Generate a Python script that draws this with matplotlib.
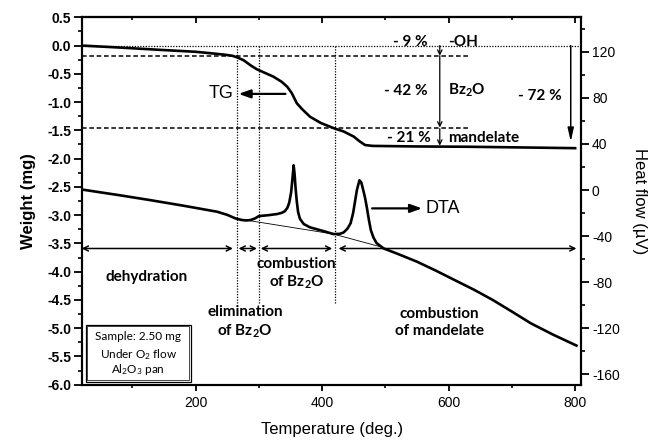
import numpy as np
import matplotlib
matplotlib.use("Agg")
import matplotlib.pyplot as plt
from matplotlib.ticker import MultipleLocator
from matplotlib.patches import Rectangle

plt.rcParams['font.family'] = ['Liberation Sans', 'DejaVu Sans']
plt.rcParams['axes.unicode_minus'] = False
plt.rcParams['mathtext.default'] = 'regular'

# TG curve: temperature (deg.) vs weight (mg)
tg_temp = [20, 80, 144, 200, 223, 245, 258, 266, 276, 287, 297, 305, 323, 336, 345,
           352, 356, 360, 368, 381, 398, 418, 434, 450, 460, 468, 480, 550, 629, 700, 800]
tg_weight = [0.0, -0.035, -0.076, -0.11, -0.135, -0.16, -0.18, -0.21, -0.26, -0.35, -0.42,
             -0.46, -0.55, -0.64, -0.73, -0.84, -0.93, -1.02, -1.12, -1.26, -1.37, -1.46,
             -1.52, -1.61, -1.70, -1.76, -1.775, -1.785, -1.79, -1.80, -1.815]

# DTA curve: temperature vs heat flow (uV)
dta_temp = [20, 80, 128, 180, 234, 250, 263, 272, 280, 287, 294, 300, 315, 329, 336,
            341, 345, 348, 351, 353, 355, 356.5, 358, 360, 362, 365, 371, 381, 402, 418,
            428, 434, 440, 445, 449, 452, 455, 459, 462, 465, 468, 471, 474, 477, 481,
            486, 497, 520, 550, 580, 609, 640, 670, 700, 730, 765, 802]
dta_flow = [0.5, -4.5, -8.7, -13.5, -18.8, -21.5, -24.6, -25.9, -26.4, -26.0, -24.6,
            -22.6, -21.8, -20.8, -19.8, -18.4, -15.5, -11, -2, 9, 21.5, 14, 2, -10, -19,
            -25, -29.5, -32.4, -35.6, -38.2, -38.0, -36.8, -33.5, -28.9, -20, -10, 0,
            8.5, 6.5, 0, -7, -16, -26, -34.7, -41, -46, -50.6, -55.5, -62.2, -70, -78,
            -86.5, -95.5, -105.5, -115.7, -125.5, -135]
base_temp = [263, 418, 492]
base_flow = [-24.6, -38.2, -49.2]

step_temps = [265, 300, 420]
step_levels = [-0.18, -1.45]

fig = plt.figure(figsize=(6.5, 4.46), dpi=100)
ax = fig.add_axes([0.1257, 0.1374, 0.7689, 0.8238])
ax2 = ax.twinx()

ax.plot(tg_temp, tg_weight, color='black', lw=1.9)
ax2.plot(dta_temp, dta_flow, color='black', lw=1.9)
ax2.plot(base_temp, base_flow, color='black', lw=0.6)

ax.set_xlim(20, 810)
ax.set_ylim(-6.0, 0.5)
ax2.set_ylim(-169, 150)

# reference lines
ax.plot([20, 810], [0, 0], color='black', lw=0.9, ls=(0, (1, 1.2)))
for lv in step_levels:
    ax.plot([20, 633], [lv, lv], color='black', lw=1.1, ls=(0, (3, 1.8)))
for t in step_temps:
    ax.plot([t, t], [0, -4.56], color='black', lw=0.9, ls=(0, (1, 1.2)))

# region arrows
arr = dict(arrowstyle='<->', lw=1.1, color='black', shrinkA=0, shrinkB=0, mutation_scale=9)
for a, b in [(20, 259), (268, 297), (303, 416), (426, 802)]:
    ax.annotate('', xy=(a, -3.59), xytext=(b, -3.59), arrowprops=arr)

lab = dict(family=['Lato', 'DejaVu Sans'], weight='bold', fontsize=11, ha='center',
           va='center', linespacing=1.25)
ax.text(123, -4.10, 'dehydration', **lab)
ax.text(360, -4.04, 'combustion\nof Bz$_2$O', **lab)
ax.text(278, -4.90, 'elimination\nof Bz$_2$O', **lab)
ax.text(585, -4.90, 'combustion\nof mandelate', **lab)

# mass loss annotations
pct = dict(family=['Lato', 'DejaVu Sans'], weight='bold', fontsize=11, va='center')
ax.text(539, 0.07, '- 9 %', ha='center', **pct)
ax.text(599, 0.07, '-OH', ha='left', **pct)
ax.text(533, -0.80, '- 42 %', ha='center', **pct)
ax.text(599, -0.80, 'Bz$_2$O', ha='left', **pct)
ax.text(537, -1.63, '- 21 %', ha='center', **pct)
ax.text(599, -1.63, 'mandelate', ha='left', **pct)
ax.text(745, -0.90, '- 72 %', ha='center', **pct)

small = dict(arrowstyle='->', lw=0.9, color='black', shrinkA=0, shrinkB=0, mutation_scale=8)
ax.annotate('', xy=(586, -0.18), xytext=(586, 0), arrowprops=small)
ax.annotate('', xy=(586, -1.45), xytext=(586, -0.18), arrowprops=small)
ax.annotate('', xy=(586, -1.77), xytext=(586, -1.47), arrowprops=small)
ax.annotate('', xy=(793, -1.70), xytext=(793, 0),
            arrowprops=dict(arrowstyle='-|>,head_width=0.18,head_length=0.8', lw=1.1,
                            color='black', shrinkA=0, shrinkB=0))

big = dict(arrowstyle='-|>,head_width=0.25,head_length=0.7', lw=1.6, color='black',
           shrinkA=0, shrinkB=0)
ax.annotate('', xy=(268, -0.855), xytext=(342, -0.855), arrowprops=big)
ax.text(240, -0.855, 'TG', fontsize=13, ha='center', va='center')
ax2.annotate('', xy=(558, -15.9), xytext=(479, -15.9), arrowprops=big)
ax2.text(563, -15.9, 'DTA', fontsize=13, ha='left', va='center')

# sample box
ax.add_patch(Rectangle((26, -5.95), 167, 1.01, fill=False, lw=0.9, color='black'))
ax.add_patch(Rectangle((29, -5.92), 161, 0.95, fill=False, lw=0.5, color='black'))
box = dict(family=['Lato', 'DejaVu Sans'], fontsize=8.5, ha='center', va='center')
ax.text(109.5, -5.15, 'Sample: 2.50 mg', **box)
ax.text(109.5, -5.46, 'Under O$_2$ flow', **box)
ax.text(109.5, -5.73, 'Al$_2$O$_3$ pan', **box)

# axes styling
for a in (ax, ax2):
    for s in a.spines.values():
        s.set_linewidth(1.5)

ax.yaxis.set_major_locator(MultipleLocator(0.5))
ax.yaxis.set_minor_locator(MultipleLocator(0.25))
ax.yaxis.set_major_formatter(matplotlib.ticker.FormatStrFormatter('%.1f'))
ax.set_xticks([200, 400, 600, 800])
ax.xaxis.set_minor_locator(MultipleLocator(100))
ax2.yaxis.set_major_locator(MultipleLocator(40))
ax2.yaxis.set_minor_locator(MultipleLocator(20))
ax2.set_yticks([-160, -120, -80, -40, 0, 40, 80, 120])

ax.tick_params(axis='y', which='major', direction='out', length=5.5, width=1.3,
               labelsize=10, pad=2)
ax.tick_params(axis='y', which='minor', direction='out', length=3, width=1.2)
ax.tick_params(axis='x', which='major', direction='out', length=4, width=1.3,
               labelsize=10, pad=4)
ax.tick_params(axis='x', which='minor', direction='out', length=2.5, width=1.2)
for lb in ax.get_yticklabels():
    lb.set_fontweight('bold')
ax2.tick_params(axis='y', which='major', direction='out', length=5.5, width=1.3,
                labelsize=10, pad=2)
ax2.tick_params(axis='y', which='minor', direction='out', length=3, width=1.2)

top = ax.secondary_xaxis('top')
top.set_xticks([200, 400, 600, 800])
top.xaxis.set_minor_locator(MultipleLocator(100))
top.tick_params(axis='x', which='major', direction='in', length=4, width=1.3, labeltop=False)
top.tick_params(axis='x', which='minor', direction='in', length=2.5, width=1.2)
top.spines['top'].set_linewidth(1.5)

ax.set_xlabel('Temperature (deg.)', fontsize=12, labelpad=9)
ax.set_ylabel('Weight (mg)', fontsize=12, fontweight='bold', labelpad=8)
ax2.set_ylabel('Heat flow (\u00b5V)', fontsize=12, rotation=-90, va='bottom', labelpad=9)

fig.savefig('out.png', dpi=100)
